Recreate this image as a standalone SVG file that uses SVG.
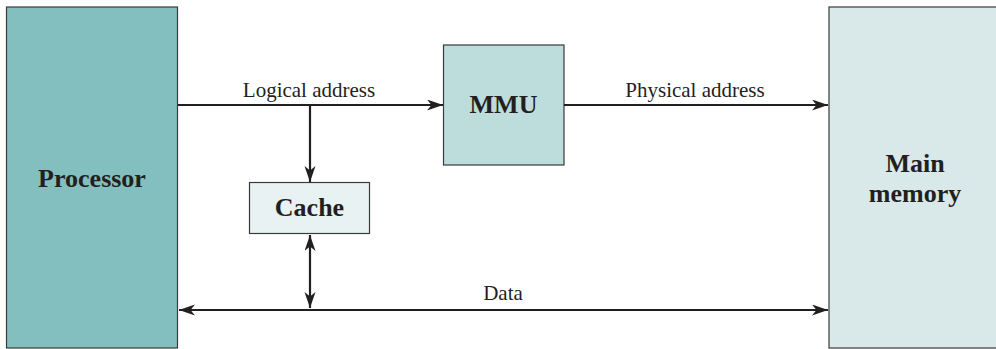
<svg xmlns="http://www.w3.org/2000/svg" width="996" height="349" viewBox="0 0 996 349">
<style>
.box{stroke:#3a3a3a;stroke-width:1.2}
.bl{font-family:"Liberation Serif",serif;font-weight:bold;font-size:26px;fill:#231f20;text-anchor:middle}
.lb{font-family:"Liberation Serif",serif;font-size:21px;fill:#231f20;text-anchor:middle}
.ln{stroke:#231f20;stroke-width:2.2;fill:none}
</style>
<defs>
<marker id="ah" markerUnits="userSpaceOnUse" markerWidth="17" markerHeight="12" refX="16" refY="5.5" orient="auto-start-reverse">
<path d="M0,0 L16,5.5 L0,11 L4.5,5.5 z" fill="#231f20"/>
</marker>
</defs>
<g id="processor">
<rect class="box" x="6.5" y="7" width="171" height="341" fill="#84bfbf"/>
<text class="bl" x="92" y="187">Processor</text>
</g>
<g id="mmu">
<rect class="box" x="443.5" y="45" width="120.5" height="120" fill="#bddcdc"/>
<text class="bl" x="503.5" y="113">MMU</text>
</g>
<g id="cache">
<rect class="box" x="249.5" y="182.5" width="120" height="51" fill="#e8f2f2"/>
<text class="bl" x="309.5" y="216">Cache</text>
</g>
<g id="main-memory">
<rect class="box" x="829" y="7" width="175" height="341" fill="#d9e9e9"/>
<text class="bl" x="915" y="172">Main</text>
<text class="bl" x="915" y="202">memory</text>
</g>
<g id="connectors">
<line class="ln" x1="178" y1="105" x2="443" y2="105" marker-end="url(#ah)"/>
<line class="ln" x1="310" y1="105" x2="310" y2="182" marker-end="url(#ah)"/>
<line class="ln" x1="564" y1="105" x2="828" y2="105" marker-end="url(#ah)"/>
<line class="ln" x1="179" y1="310" x2="828" y2="310" marker-start="url(#ah)" marker-end="url(#ah)"/>
<line class="ln" x1="310" y1="235" x2="310" y2="308" marker-start="url(#ah)" marker-end="url(#ah)"/>
<text class="lb" x="309" y="97">Logical address</text>
<text class="lb" x="695" y="97">Physical address</text>
<text class="lb" x="503" y="300">Data</text>
</g>
</svg>
